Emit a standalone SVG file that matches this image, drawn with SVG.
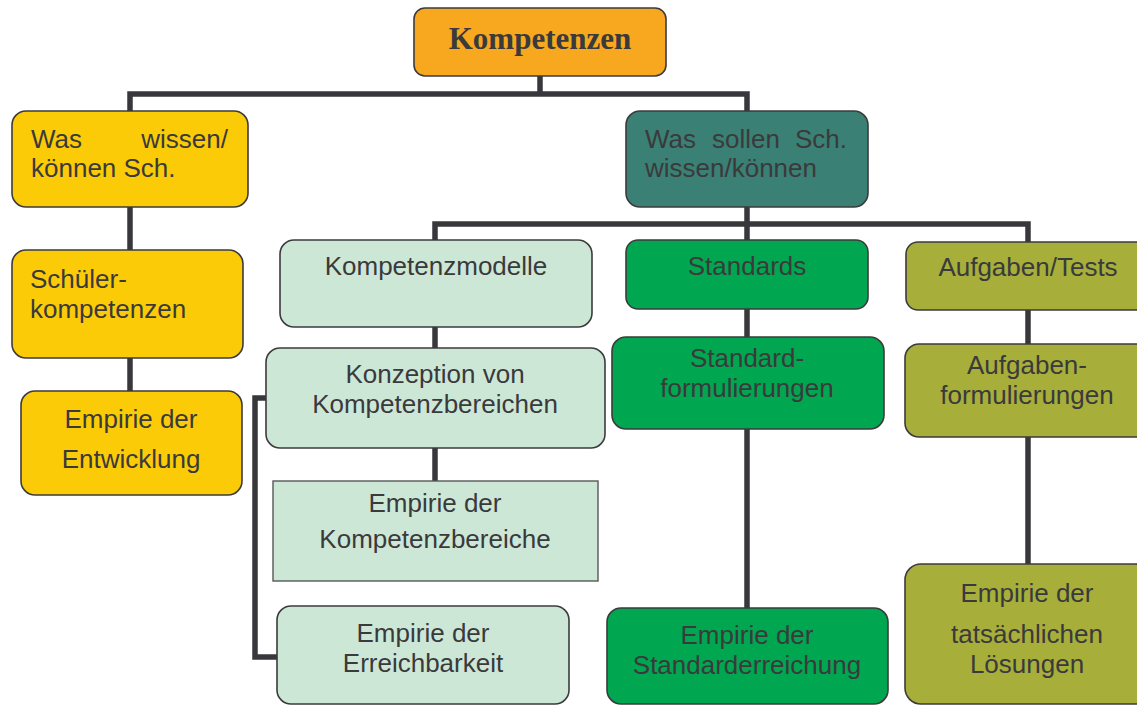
<svg xmlns="http://www.w3.org/2000/svg" width="1137" height="706" viewBox="0 0 1137 706">
<style>
.box{stroke:#3b3b3d;stroke-width:1.6}
.t{font-family:"Liberation Sans",Arial,sans-serif;font-size:26px;fill:#3a3a3c}
.c{text-anchor:middle}
.e{text-anchor:end}
.title{font-family:"Liberation Serif","Times New Roman",serif;font-size:31px;font-weight:bold;fill:#3a3a3c;text-anchor:middle}
.conn{fill:none;stroke:#38383c;stroke-width:5.5;stroke-linejoin:miter}
.orange{fill:#F7A81E}
.yellow{fill:#FCCB08}
.teal{fill:#3B8074}
.light{fill:#CDE7D7}
.green{fill:#00A650}
.olive{fill:#A7AE3A}
</style>
<rect width="1137" height="706" fill="#ffffff"/>
<g id="connectors">
<path class="conn" d="M540,76 V94 M130,111 V94 H747 V111"/>
<path class="conn" d="M130,207 V250 M130,358 V391"/>
<path class="conn" d="M747,207 V224 M435,240 V224 H1028 V242 M747,224 V240"/>
<path class="conn" d="M435,327 V348 M435,448 V481"/>
<path class="conn" d="M266,398 H255 V657 H277"/>
<path class="conn" d="M747,309 V337 M747,429 V608"/>
<path class="conn" d="M1028,310 V344 M1028,437 V564"/>
</g>
<g id="kompetenzen">
<rect class="box orange" x="414" y="8" width="252" height="68" rx="11"/>
<text class="title" x="540" y="49">Kompetenzen</text>
</g>
<g id="was-wissen">
<rect class="box yellow" x="12" y="111" width="236" height="96" rx="14"/>
<text class="t" x="31" y="148">Was</text>
<text class="t e" x="228" y="148">wissen/</text>
<text class="t" x="31" y="177">können Sch.</text>
</g>
<g id="was-sollen">
<rect class="box teal" x="626" y="111" width="242" height="96" rx="14"/>
<text class="t" x="645" y="148">Was</text>
<text class="t c" x="746" y="148">sollen</text>
<text class="t e" x="847" y="148">Sch.</text>
<text class="t" x="645" y="177">wissen/können</text>
</g>
<g id="schuelerkompetenzen">
<rect class="box yellow" x="12" y="250" width="231" height="108" rx="14"/>
<text class="t" x="30" y="288">Schüler-</text>
<text class="t" x="30" y="318">kompetenzen</text>
</g>
<g id="empirie-entwicklung">
<rect class="box yellow" x="21" y="391" width="221" height="104" rx="14"/>
<text class="t c" x="131" y="428">Empirie der</text>
<text class="t c" x="131" y="468">Entwicklung</text>
</g>
<g id="kompetenzmodelle">
<rect class="box light" x="280" y="240" width="312" height="87" rx="14"/>
<text class="t c" x="436" y="275">Kompetenzmodelle</text>
</g>
<g id="konzeption">
<rect class="box light" x="266" y="348" width="339" height="100" rx="14"/>
<text class="t c" x="435" y="383">Konzeption von</text>
<text class="t c" x="435" y="413">Kompetenzbereichen</text>
</g>
<g id="empirie-kompetenzbereiche">
<rect x="273" y="481" width="325" height="100" fill="#CDE7D7" stroke="#58585a" stroke-width="1.4"/>
<text class="t c" x="435" y="512">Empirie der</text>
<text class="t c" x="435" y="548">Kompetenzbereiche</text>
</g>
<g id="empirie-erreichbarkeit">
<rect class="box light" x="277" y="606" width="292" height="98" rx="14"/>
<text class="t c" x="423" y="642">Empirie der</text>
<text class="t c" x="423" y="672">Erreichbarkeit</text>
</g>
<g id="standards">
<rect class="box green" x="626" y="240" width="242" height="69" rx="12"/>
<text class="t c" x="747" y="275">Standards</text>
</g>
<g id="standardformulierungen">
<rect class="box green" x="612" y="337" width="272" height="92" rx="14"/>
<text class="t c" x="747" y="367">Standard-</text>
<text class="t c" x="747" y="397">formulierungen</text>
</g>
<g id="empirie-standarderreichung">
<rect class="box green" x="607" y="608" width="281" height="96" rx="14"/>
<text class="t c" x="747" y="644">Empirie der</text>
<text class="t c" x="747" y="674">Standarderreichung</text>
</g>
<g id="aufgaben-tests">
<rect class="box olive" x="906" y="242" width="245" height="68" rx="12"/>
<text class="t c" x="1028" y="276">Aufgaben/Tests</text>
</g>
<g id="aufgabenformulierungen">
<rect class="box olive" x="905" y="344" width="246" height="93" rx="14"/>
<text class="t c" x="1027" y="374">Aufgaben-</text>
<text class="t c" x="1027" y="404">formulierungen</text>
</g>
<g id="empirie-loesungen">
<rect class="box olive" x="905" y="564" width="246" height="140" rx="16"/>
<text class="t c" x="1027" y="602">Empirie der</text>
<text class="t c" x="1027" y="643">tatsächlichen</text>
<text class="t c" x="1027" y="673">Lösungen</text>
</g>
</svg>
